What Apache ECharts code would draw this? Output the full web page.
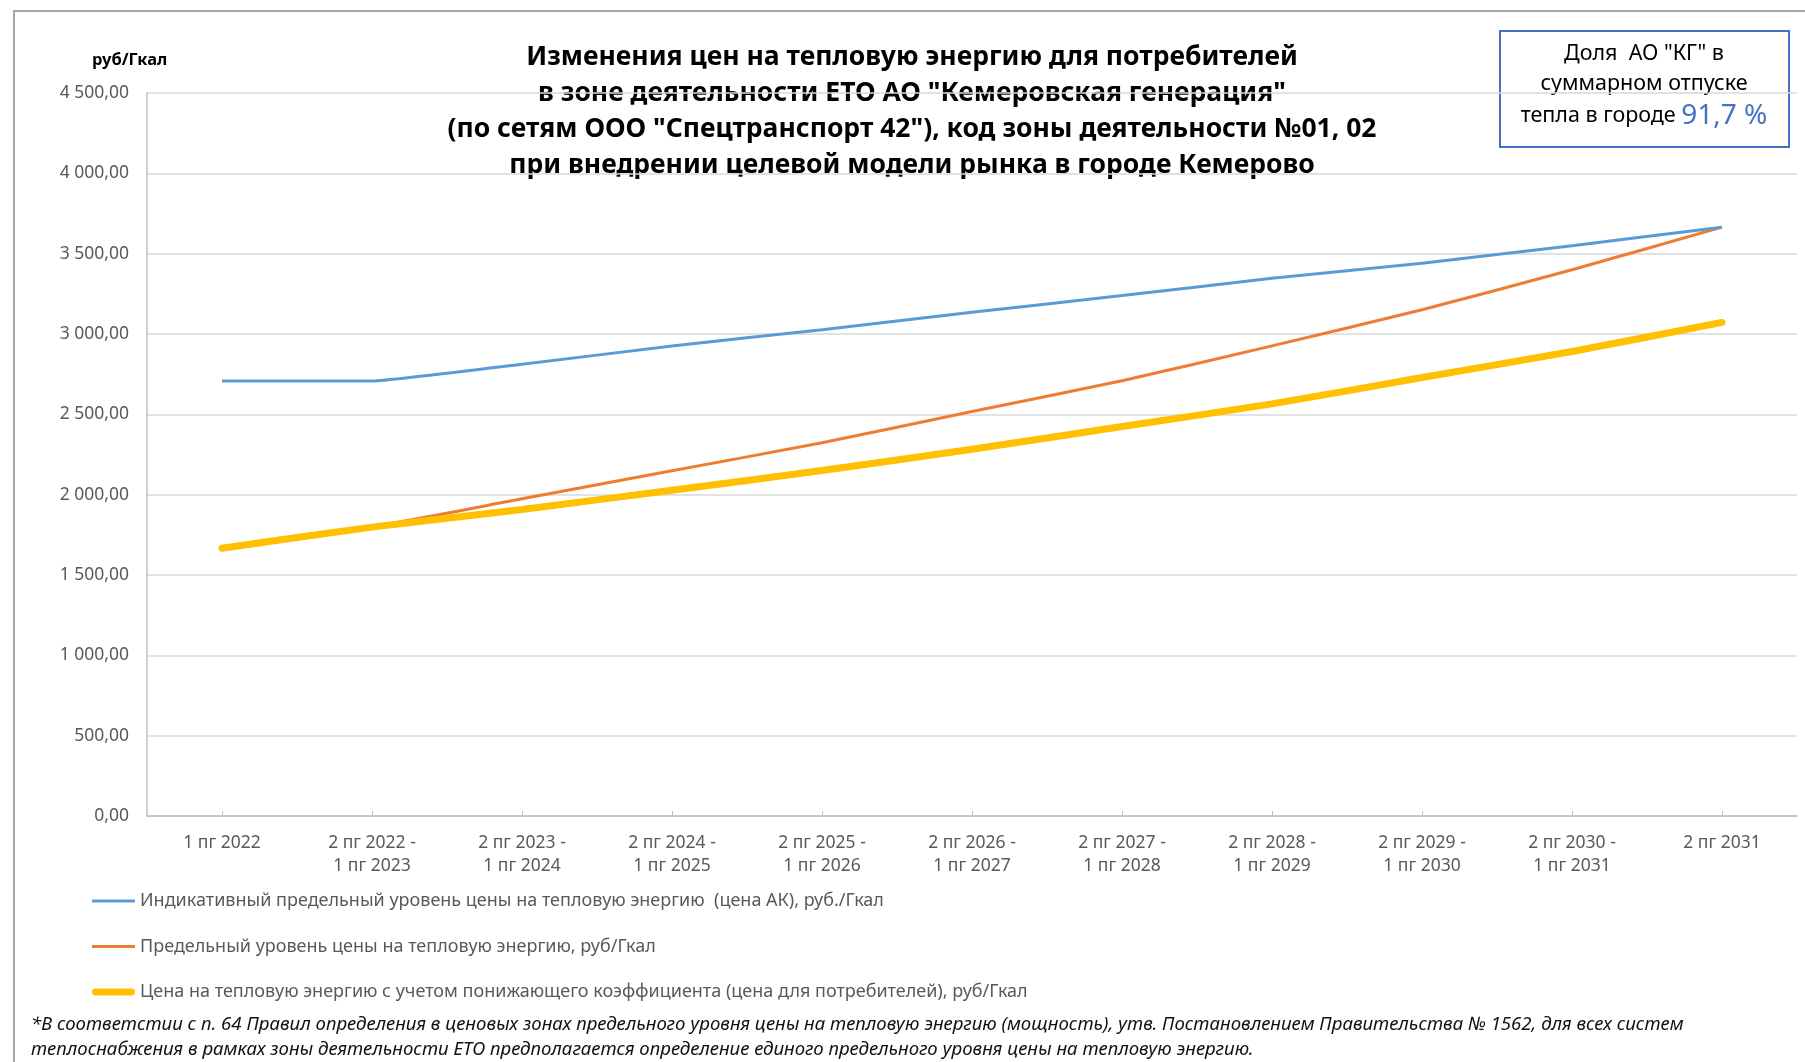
<!DOCTYPE html>
<html>
<head>
<meta charset="utf-8">
<script src="https://cdn.jsdelivr.net/npm/echarts@6/dist/echarts.min.js"></script>
<style>
html,body{margin:0;padding:0;background:#fff;}
#chart{width:1805px;height:1062px;}
</style>
</head>
<body>
<div id="chart"></div>
<script>
const categories = [
  "1 пг 2022",
  "2 пг 2022 -\n1 пг 2023",
  "2 пг 2023 -\n1 пг 2024",
  "2 пг 2024 -\n1 пг 2025",
  "2 пг 2025 -\n1 пг 2026",
  "2 пг 2026 -\n1 пг 2027",
  "2 пг 2027 -\n1 пг 2028",
  "2 пг 2028 -\n1 пг 2029",
  "2 пг 2029 -\n1 пг 2030",
  "2 пг 2030 -\n1 пг 2031",
  "2 пг 2031"
];
const indicativePrice = [2707, 2707, 2812, 2925, 3027, 3135, 3239, 3347, 3441, 3549, 3665];
const limitPrice      = [1667, 1800, 1974, 2149, 2323, 2518, 2709, 2926, 3151, 3400, 3665];
const consumerPrice   = [1667, 1798, 1908, 2028, 2150, 2283, 2424, 2565, 2729, 2891, 3072];
const seriesNames = [
  "Индикативный предельный уровень цены на тепловую энергию  (цена АК), руб./Гкал",
  "Предельный уровень цены на тепловую энергию, руб/Гкал",
  "Цена на тепловую энергию с учетом понижающего коэффициента (цена для потребителей), руб/Гкал"
];
const titleLines = [
  "Изменения цен на тепловую энергию для потребителей",
  "в зоне деятельности ЕТО АО \"Кемеровская генерация\"",
  "(по сетям ООО \"Спецтранспорт 42\"), код зоны деятельности №01, 02",
  "при внедрении целевой модели рынка в городе Кемерово"
];
const unitLabel = "руб/Гкал";
const boxLines = ["Доля  АО \"КГ\" в", "суммарном отпуске", "тепла в городе "];
const boxValue = "91,7 %";
const footnoteLines = [
  "*В соответстии с п. 64 Правил определения в ценовых зонах предельного уровня цены на тепловую энергию (мощность), утв. Постановлением Правительства № 1562, для всех систем",
  "теплоснабжения в рамках зоны деятельности ЕТО предполагается определение единого предельного уровня цены на тепловую энергию."
];

function fmt(v){
  const s = v.toFixed(2);
  const parts = s.split('.');
  return parts[0].replace(/\B(?=(\d{3})+(?!\d))/g, ' ') + ',' + parts[1];
}

const FONT = "'Noto Sans', 'Open Sans', sans-serif";
const chart = echarts.init(document.getElementById('chart'), null, {renderer:'canvas'});

const graphics = [
  {type:'polyline', shape:{points:[[14,1100],[14,11],[1900,11]]}, style:{stroke:'#a6a6a6', lineWidth:2, fill:null}, silent:true},
  {type:'text', left:92, top:52, style:{text:unitLabel, font:"bold 16.5px "+FONT, fill:'#000'}},
  {type:'rect', shape:{x:1500, y:31, width:289, height:116}, style:{fill:'#fff', stroke:'#4472C4', lineWidth:2}},
  {type:'text', x:1644, y:54, style:{text:boxLines[0], font:"21.5px "+FONT, fill:'#000', align:'center', verticalAlign:'middle'}},
  {type:'text', x:1644, y:84, style:{text:boxLines[1], font:"21.5px "+FONT, fill:'#000', align:'center', verticalAlign:'middle'}},
  {type:'text', x:1644, y:116, style:{
    text:'{a|'+boxLines[2]+'}{b|'+boxValue+'}', align:'center', verticalAlign:'middle',
    rich:{a:{font:"21.5px "+FONT, fill:'#000'}, b:{font:"28px "+FONT, fill:'#4472C4'}}
  }}
];
titleLines.forEach((t,i)=>{
  graphics.push({type:'text', x:912, y:57+i*36, style:{text:t, font:"bold 26.5px "+FONT, fill:'#000', align:'center', verticalAlign:'middle'}});
});
footnoteLines.forEach((t,i)=>{
  graphics.push({type:'text', x:31, y:1025+i*25, style:{text:t, font:"italic 18.6px "+FONT, fill:'#111', align:'left', verticalAlign:'middle'}});
});

const iconThin = 'path://M0,0 L43,0 L43,3 L0,3 Z';
const iconThick = 'path://M3,0 L40,0 A3.5,3.5 0 0 1 40,7 L3,7 A3.5,3.5 0 0 1 3,0 Z';

const option = {
  backgroundColor:'#fff',
  animation:false,
  textStyle:{fontFamily:FONT},
  grid:{left:147, right:8, top:93, bottom:246, containLabel:false},
  xAxis:{
    type:'category', data:categories, boundaryGap:true,
    axisLine:{lineStyle:{color:'#bfbfbf', width:1.5}},
    axisTick:{show:true, alignWithLabel:true, inside:true, length:5, lineStyle:{color:'#bfbfbf'}},
    axisLabel:{color:'#595959', fontSize:17.5, lineHeight:23, margin:16, interval:0}
  },
  yAxis:{
    type:'value', min:0, max:4500, interval:500,
    axisLine:{show:true, lineStyle:{color:'#bfbfbf', width:1.5}},
    axisTick:{show:false},
    splitLine:{lineStyle:{color:'#d9d9d9', width:1.5}},
    axisLabel:{color:'#595959', fontSize:17.5, margin:18, formatter:fmt}
  },
  legend:{
    orient:'vertical', left:92, top:891, padding:0, itemWidth:43, itemHeight:20, itemGap:25.5,
    textStyle:{color:'#595959', fontSize:18, lineHeight:20},
    data:[
      {name:seriesNames[0], icon:iconThin},
      {name:seriesNames[1], icon:iconThin},
      {name:seriesNames[2], icon:iconThick}
    ]
  },
  series:[
    {name:seriesNames[0], type:'line', data:indicativePrice, symbol:'none', smooth:0.1,
     lineStyle:{color:'#5B9BD5', width:3}, itemStyle:{color:'#5B9BD5'}, z:3},
    {name:seriesNames[1], type:'line', data:limitPrice, symbol:'none', smooth:0.2,
     lineStyle:{color:'#ED7D31', width:3}, itemStyle:{color:'#ED7D31'}, z:2},
    {name:seriesNames[2], type:'line', data:consumerPrice, symbol:'none', smooth:0.2,
     lineStyle:{color:'#FFC000', width:7, cap:'round'}, itemStyle:{color:'#FFC000'}, z:4}
  ],
  graphic:graphics
};
chart.setOption(option);
</script>
</body>
</html>
